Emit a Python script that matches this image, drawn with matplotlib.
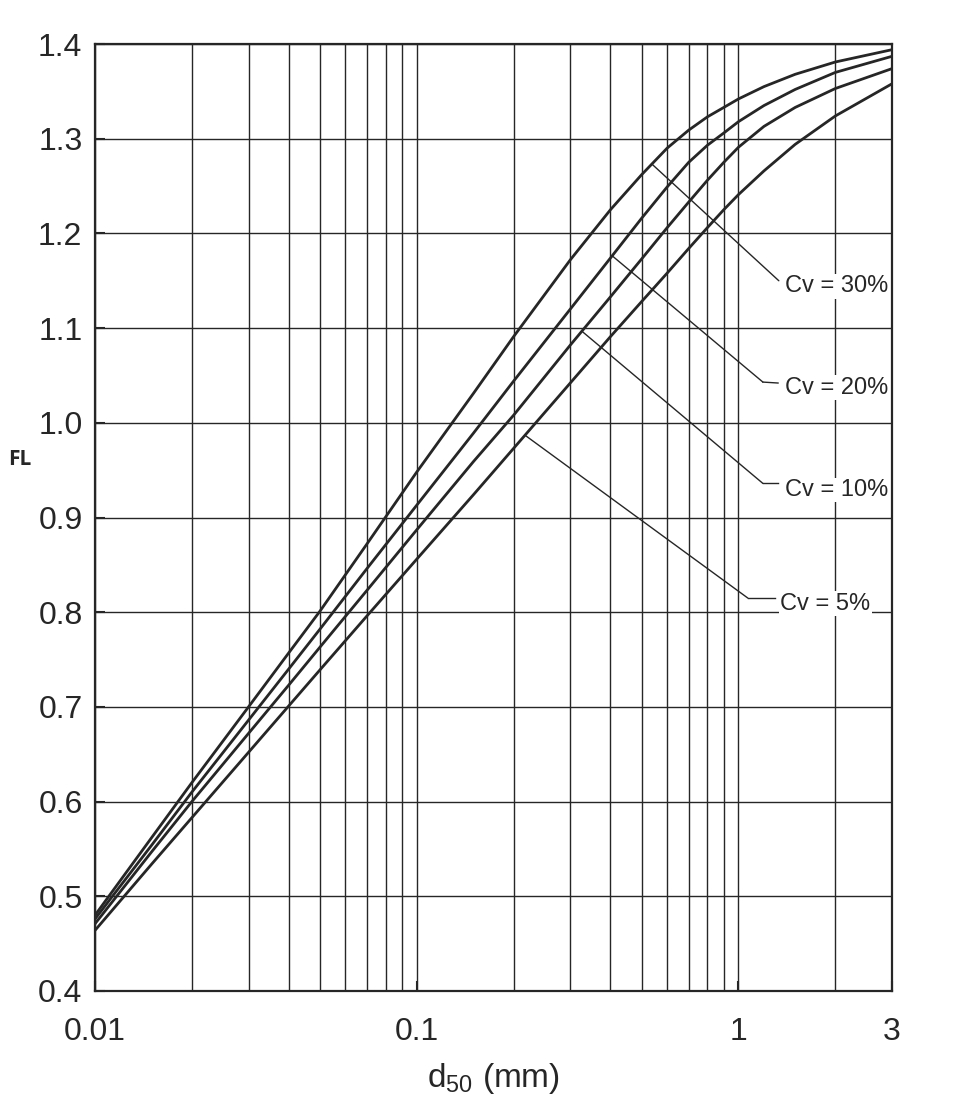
import numpy as np
import matplotlib
matplotlib.use('Agg')
import matplotlib.pyplot as plt
from matplotlib.ticker import FixedLocator, NullFormatter, FormatStrFormatter

# d50 (mm) readings and FL values for each volume concentration Cv
d50 = [0.01, 0.015, 0.02, 0.03, 0.04, 0.05, 0.07, 0.1, 0.15, 0.2, 0.3,
       0.4, 0.5, 0.6, 0.7, 0.8, 0.9, 1.0, 1.2, 1.5, 2.0, 3.0]

fl_cv30 = [0.480, 0.562, 0.620, 0.700, 0.757, 0.801, 0.872, 0.948, 1.031, 1.091, 1.172,
           1.225, 1.262, 1.290, 1.309, 1.323, 1.333, 1.342, 1.355, 1.368, 1.381, 1.394]
fl_cv20 = [0.476, 0.554, 0.610, 0.686, 0.740, 0.782, 0.846, 0.913, 0.989, 1.044, 1.120,
           1.174, 1.216, 1.249, 1.275, 1.293, 1.306, 1.318, 1.335, 1.352, 1.370, 1.387]
fl_cv10 = [0.471, 0.547, 0.600, 0.672, 0.723, 0.763, 0.823, 0.887, 0.959, 1.008, 1.082,
           1.133, 1.173, 1.206, 1.233, 1.256, 1.275, 1.291, 1.313, 1.333, 1.353, 1.374]
fl_cv5 = [0.464, 0.534, 0.583, 0.652, 0.701, 0.739, 0.796, 0.856, 0.924, 0.973, 1.042,
          1.091, 1.128, 1.158, 1.184, 1.206, 1.225, 1.241, 1.266, 1.294, 1.324, 1.358]

labels = ['Cv = 30%', 'Cv = 20%', 'Cv = 10%', 'Cv = 5%']
# where each leader line touches its curve (d50)
leader_x = [0.538, 0.405, 0.326, 0.217]

x_major = [0.01, 0.1, 1, 3]
x_major_labels = ['0.01', '0.1', '1', '3']
x_minor = [0.02, 0.03, 0.04, 0.05, 0.06, 0.07, 0.08, 0.09,
           0.2, 0.3, 0.4, 0.5, 0.6, 0.7, 0.8, 0.9, 2]
y_ticks = np.arange(0.4, 1.41, 0.1)

plt.rcParams['font.family'] = ['Liberation Sans', 'DejaVu Sans']
plt.rcParams['mathtext.fontset'] = 'custom'
plt.rcParams['mathtext.rm'] = 'Liberation Sans'
plt.rcParams['mathtext.it'] = 'Liberation Sans'

ink = '#262626'

fig = plt.figure(figsize=(9.6, 11.13), dpi=100)
ax = fig.add_axes([95 / 960, 1 - 991 / 1113, 797 / 960, 947 / 1113])

curves = [fl_cv30, fl_cv20, fl_cv10, fl_cv5]
for fl in curves:
    ax.plot(d50, fl, color=ink, lw=2.0, solid_joinstyle='round', zorder=3)

ax.set_xscale('log')
ax.set_xlim(0.01, 3)
ax.set_ylim(0.4, 1.4)

ax.xaxis.set_major_locator(FixedLocator(x_major))
ax.xaxis.set_minor_locator(FixedLocator(x_minor))
ax.xaxis.set_minor_formatter(NullFormatter())
ax.set_xticklabels(x_major_labels)
ax.set_yticks(y_ticks)
ax.yaxis.set_major_formatter(FormatStrFormatter('%.1f'))

ax.grid(True, which='both', color=ink, lw=1.0)
ax.set_axisbelow(True)
ax.tick_params(which='major', direction='in', length=7, width=1.5, colors=ink, labelsize=23)
ax.tick_params(axis='x', which='major', pad=19)
ax.tick_params(axis='y', which='major', pad=9)
ax.tick_params(which='minor', length=0)
for s in ax.spines.values():
    s.set_linewidth(1.6)
    s.set_color(ink)

ax.set_xlabel(r'd$_{50}$ (mm)', fontsize=24, labelpad=10, color=ink)
ax.set_ylabel('FL', rotation=0, fontsize=15, fontweight='bold',
              family=['Open Sans', 'DejaVu Sans'], color=ink)
ax.yaxis.set_label_coords(-0.095, 0.55)

# leader lines and labels (elbow and text positions in axes fraction)
elbows = [(0.858, 0.750), (0.838, 0.643), (0.838, 0.536), (0.819, 0.415)]
stub_ends = [(0.858, 0.750), (0.857, 0.642), (0.857, 0.536), (0.853, 0.415)]
text_pos = [(0.866, 0.744), (0.866, 0.637), (0.866, 0.529), (0.860, 0.409)]
for fl, lx, lab, el, st, tp in zip(curves, leader_x, labels, elbows, stub_ends, text_pos):
    ly = np.interp(np.log10(lx), np.log10(d50), fl)
    ax.annotate('', xy=(lx, ly), xycoords='data', xytext=el, textcoords='axes fraction',
                arrowprops=dict(arrowstyle='-', color=ink, lw=1.0,
                                shrinkA=0, shrinkB=0), zorder=4)
    ax.plot([el[0], st[0]], [el[1], st[1]], transform=ax.transAxes, color=ink, lw=1.0)
    ax.text(tp[0], tp[1], lab, transform=ax.transAxes, fontsize=17,
            ha='left', va='center', color=ink, zorder=5,
            bbox=dict(facecolor='white', edgecolor='none', pad=1))

fig.savefig('out.png', dpi=100, facecolor='white')
